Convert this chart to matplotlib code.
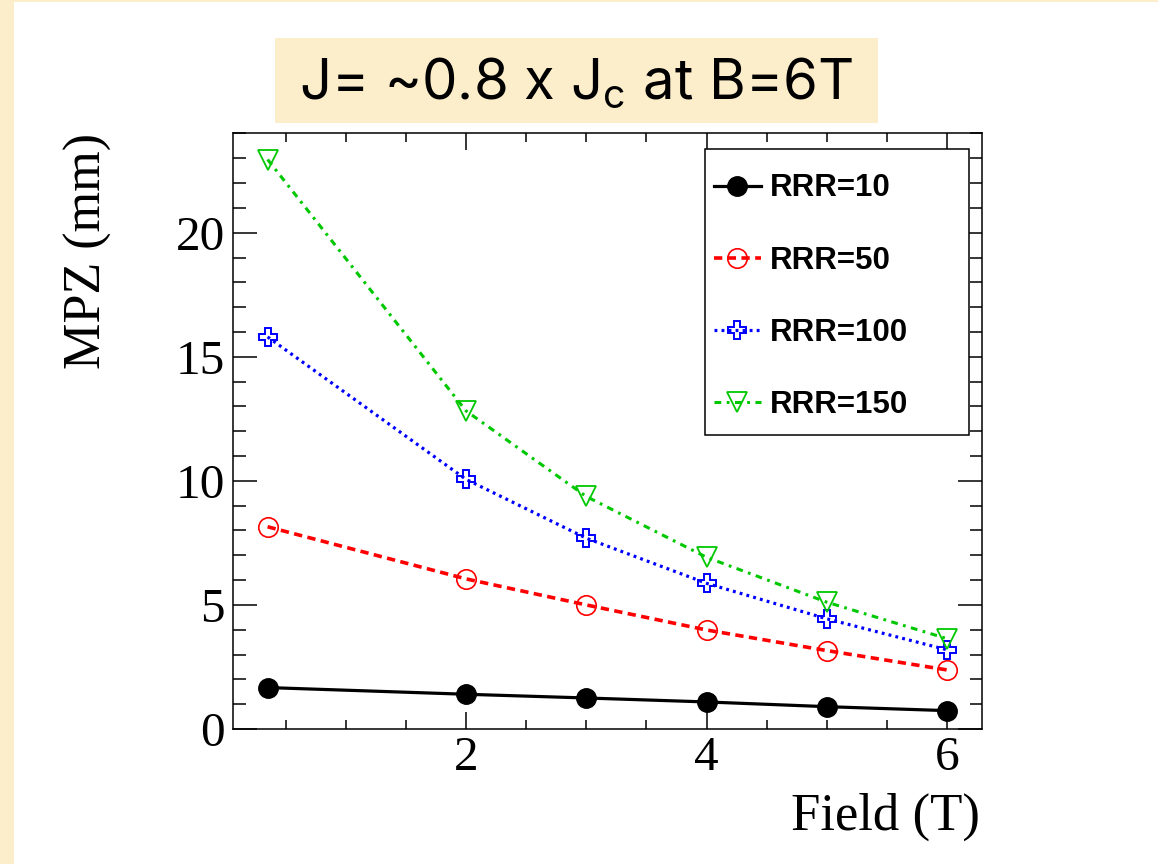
import matplotlib
matplotlib.use("Agg")
import matplotlib.pyplot as plt
from matplotlib.patches import Rectangle
from matplotlib.ticker import MultipleLocator, FixedLocator

# ---- data -------------------------------------------------------------
field = [0.35, 2, 3, 4, 5, 6]                      # magnetic field (T)
mpz_rrr10 = [1.67, 1.40, 1.25, 1.09, 0.90, 0.74]   # MPZ (mm)
mpz_rrr50 = [8.15, 6.05, 5.00, 3.99, 3.16, 2.38]
mpz_rrr100 = [15.80, 10.06, 7.69, 5.87, 4.44, 3.19]
mpz_rrr150 = [22.95, 12.82, 9.37, 6.92, 5.11, 3.64]
series_labels = ["RRR=10", "RRR=50", "RRR=100", "RRR=150"]
x_ticks = [2, 4, 6]
title_text = r"J= ~0.8 x J$_\mathrm{c}$ at B=6T"

W, H = 1158, 864
BEIGE = "#FCEDCB"
TITLE_FONT = "Inter"

plt.rcParams["mathtext.fontset"] = "custom"
plt.rcParams["mathtext.rm"] = TITLE_FONT
plt.rcParams["mathtext.it"] = TITLE_FONT + ":italic"

fig = plt.figure(figsize=(W / 100, H / 100), dpi=100, facecolor="white")

def px_rect(x0, y0, x1, y1, **kw):
    """Rectangle given in pixel coordinates (origin top-left)."""
    r = Rectangle((x0 / W, 1 - y1 / H), (x1 - x0) / W, (y1 - y0) / H,
                  transform=fig.transFigure, **kw)
    fig.patches.append(r)
    return r

# slide-style beige border on the left and top
px_rect(0, 0, 14, H, facecolor=BEIGE, edgecolor="none", zorder=0)
px_rect(0, 0, W, 2, facecolor=BEIGE, edgecolor="none", zorder=0)

# title box
px_rect(275, 38, 878, 123, facecolor=BEIGE, edgecolor="none", zorder=1)
fig.text(576.5 / W, 1 - 98.5 / H, title_text, ha="center", va="baseline",
         fontsize=40.5, family=TITLE_FONT, color="black", zorder=2)

# ---- axes -------------------------------------------------------------
ax_l, ax_r, ax_t, ax_b = 233.3, 982.0, 132.7, 729.0
ax = fig.add_axes([ax_l / W, 1 - ax_b / H, (ax_r - ax_l) / W, (ax_b - ax_t) / H])
ax.set_xlim(0.065, 6.29)
ax.set_ylim(0, 24.03)

ax.plot(field, mpz_rrr10, color="black", lw=2.3, marker="o", ms=14,
        mfc="black", mec="black", label=series_labels[0], zorder=3)
ax.plot(field, mpz_rrr50, color="#FF0000", lw=2.6, dashes=(2.3, 1.5),
        marker="o", ms=14, mfc="none", mec="#FF0000", mew=1.2,
        label=series_labels[1], zorder=3)
ax.plot(field, mpz_rrr100, color="#0000FF", lw=2.3, dashes=(0.9, 1.3),
        marker="P", ms=13.5, mfc="none", mec="#0000FF", mew=1.4,
        label=series_labels[2], zorder=3)
ax.plot(field, mpz_rrr150, color="#00C800", lw=2.2, dashes=(2.2, 1.8, 0.9, 1.8),
        marker="v", ms=14.5, mfc="none", mec="#00C800", mew=1.3,
        label=series_labels[3], zorder=3)

serif = "Liberation Serif"
ax.xaxis.set_major_locator(FixedLocator(x_ticks))
ax.xaxis.set_minor_locator(MultipleLocator(0.5))
ax.yaxis.set_major_locator(MultipleLocator(5))
ax.yaxis.set_minor_locator(MultipleLocator(1))

for s in ax.spines.values():
    s.set_linewidth(1.1)
ax.tick_params(axis="both", which="both", direction="in", top=True, right=True,
               width=1.1, color="black")
ax.tick_params(axis="x", which="major", length=12, pad=5)
ax.tick_params(axis="x", which="minor", length=6.5)
ax.tick_params(axis="y", which="major", length=17, pad=6)
ax.tick_params(axis="y", which="minor", length=9)
for lab in ax.get_xticklabels() + ax.get_yticklabels():
    lab.set_fontfamily(serif)
    lab.set_fontsize(35.5)

ax.set_xlabel("Field (T)", fontsize=38, family=serif, loc="right")
ax.xaxis.set_label_coords(0.997, -0.106)
ax.set_ylabel("MPZ (mm)", fontsize=37.5, family=serif, loc="top")
ax.yaxis.set_label_coords(-0.162, 1.0)

# legend drawn at figure level on top of its own frame
px_rect(705, 149.3, 969.3, 434.7, facecolor="white", edgecolor="black",
        lw=1.1, zorder=4)
handles, labels = ax.get_legend_handles_labels()
leg = fig.legend(handles, labels, loc="upper left",
                 bbox_to_anchor=(714 / W, 1 - 173.5 / H),
                 bbox_transform=fig.transFigure, frameon=False, borderpad=0,
                 borderaxespad=0, numpoints=1, handlelength=1.5,
                 handletextpad=0.3, labelspacing=1.35,
                 prop={"family": "Liberation Sans", "weight": "bold", "size": 22.5})
leg.set_zorder(5)

fig.savefig("out.png", dpi=100, facecolor="white")
